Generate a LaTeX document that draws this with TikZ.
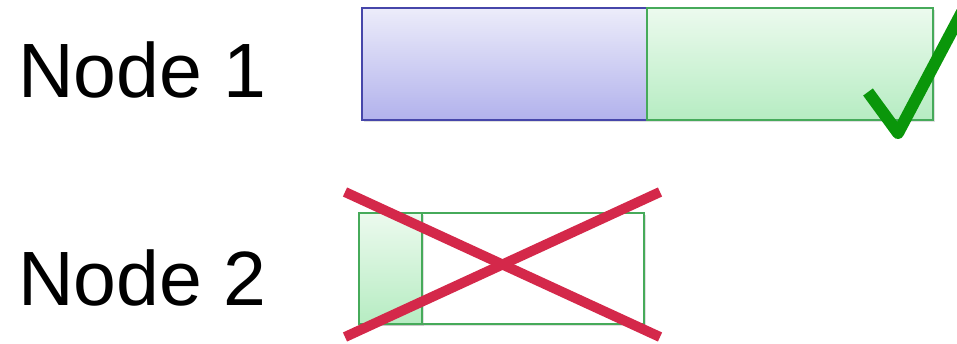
\documentclass[tikz,border=0pt]{standalone}
\usepackage{fontspec}
\setmainfont{Liberation Sans}
\usetikzlibrary{shadows}
\definecolor{blueline}{RGB}{70,70,170}
\definecolor{bluetop}{RGB}{236,236,250}
\definecolor{bluebot}{RGB}{178,178,236}
\definecolor{greenline}{RGB}{70,170,90}
\definecolor{greentop}{RGB}{236,250,238}
\definecolor{greenbot}{RGB}{182,236,194}
\definecolor{checkgreen}{RGB}{10,150,10}
\definecolor{crossred}{RGB}{212,40,74}
\tikzset{
  label text/.style={inner sep=0pt, anchor=base west, font=\fontsize{77}{90}\selectfont},
  box/.style={draw, line width=2.4pt, inner sep=0pt, anchor=north west,
    drop shadow={shadow xshift=1.5pt, shadow yshift=-2pt, opacity=0.25}},
  bluebox/.style={box, draw=blueline, top color=bluetop, bottom color=bluebot},
  greenbox/.style={box, draw=greenline, top color=greentop, bottom color=greenbot},
  emptybox/.style={box, draw=greenline, fill=white},
  checkstroke/.style={draw=checkgreen, line width=12pt, line cap=butt, line join=round},
  crossstroke/.style={draw=crossred, line width=10pt, line cap=butt},
}
\begin{document}
\begin{tikzpicture}[x=1pt,y=-1pt]
\useasboundingbox (0,0) rectangle (957,343);
\node[label text] (t1) at (18,97) {Node 1};
\node[label text] (t2) at (18,305) {Node 2};
\node[bluebox, minimum width=285pt, minimum height=112pt] (b1) at (361,7) {};
\node[greenbox, minimum width=286pt, minimum height=112pt] (g1) at (646,7) {};
\node[emptybox, minimum width=285pt, minimum height=111pt] (e2) at (358,212) {};
\node[greenbox, minimum width=63pt, minimum height=111pt] (g2) at (358,212) {};
\coordinate (c1) at (868,92);
\coordinate (c2) at (898,133);
\coordinate (c3) at (962,12);
\draw[checkstroke] (c1) -- (c2) -- (c3);
\coordinate (x1) at (345,192);
\coordinate (x2) at (660,337);
\coordinate (x3) at (345,337);
\coordinate (x4) at (660,192);
\draw[crossstroke] (x1) -- (x2);
\draw[crossstroke] (x3) -- (x4);
\end{tikzpicture}
\end{document}
